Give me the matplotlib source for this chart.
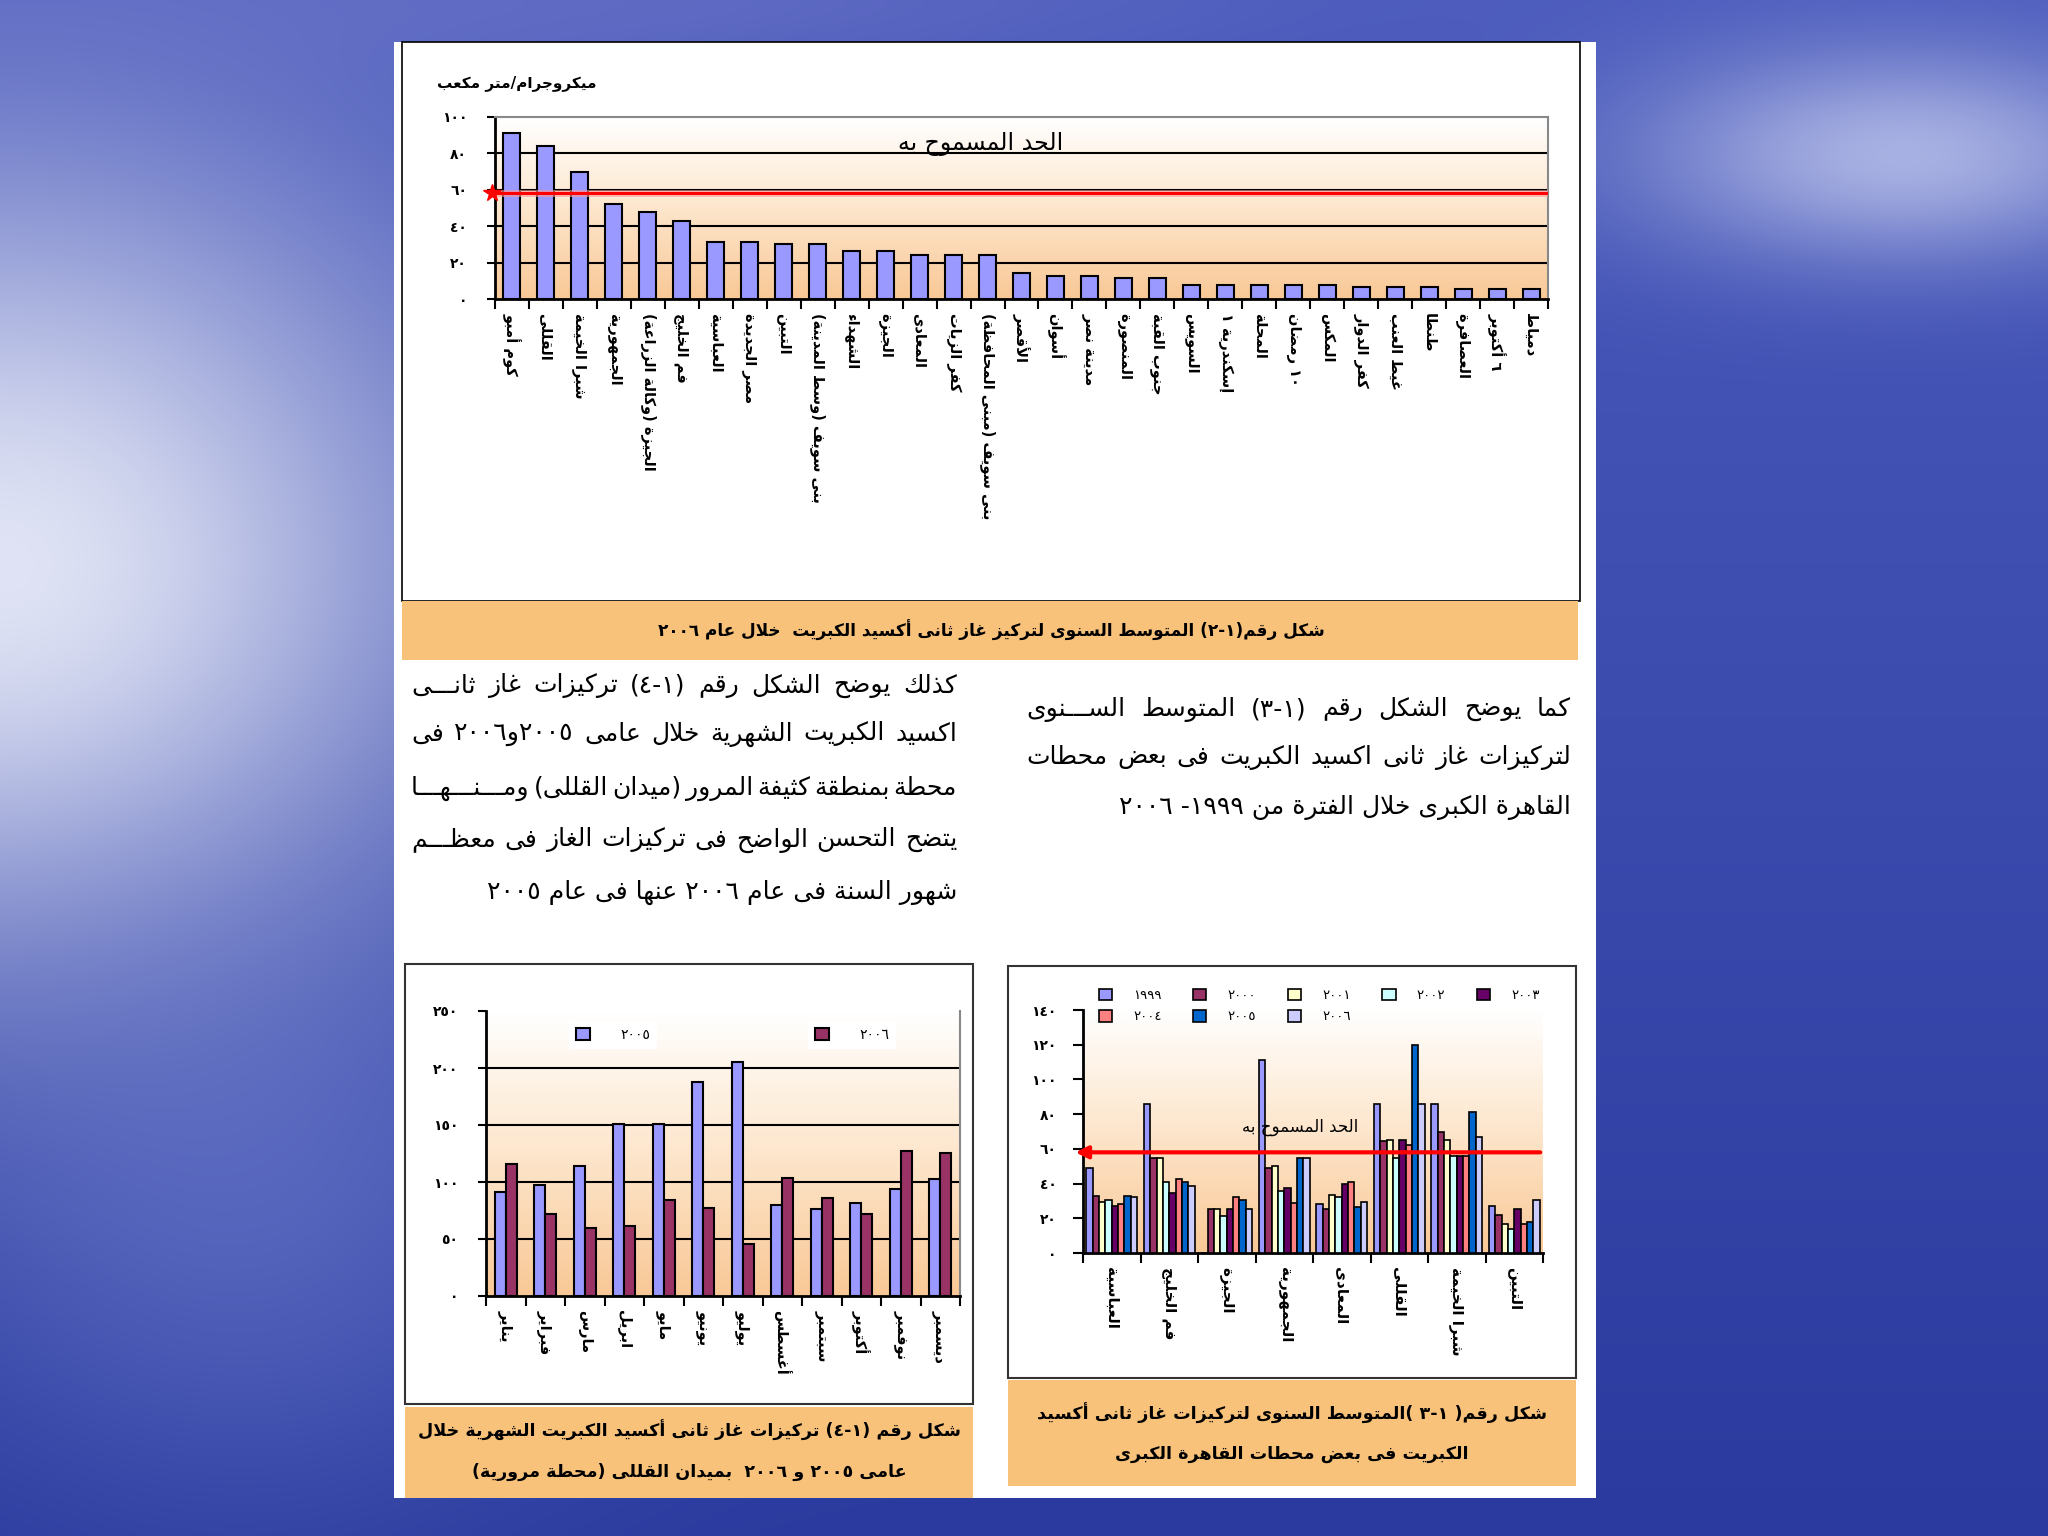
import numpy as np
import matplotlib
matplotlib.use("Agg")
import matplotlib.pyplot as plt
from matplotlib.patches import Rectangle, Patch
from matplotlib.colors import LinearSegmentedColormap

# ---------------- data ----------------
top_stations = ["كوم أمبو", "القللى", "شبرا الخيمة", "الجمهورية", "الجيزة (وكالة الزراعة)",
                "فم الخليج", "العباسية", "مصر الجديدة", "التبين", "بنى سويف (وسط المدينة)",
                "الشهداء", "الجيزة", "المعادى", "كفر الزيات", "بنى سويف (مبنى المحافظة)",
                "الأقصر", "أسوان", "مدينة نصر", "المنصورة", "جنوب القبة", "السويس",
                "إسكندرية ١", "المحلة", "١٠ رمضان", "المكس", "كفر الدوار", "غيط العنب",
                "طنطا", "العصافرة", "٦ أكتوبر", "دمياط"]
top_values = [91, 84, 70, 52, 48, 43, 31.5, 31.5, 30.3, 30.3, 26.6, 26.6, 24.2, 24.2, 24.2,
              14.1, 12.8, 12.8, 11.7, 11.7, 7.8, 7.8, 7.8, 7.8, 7.8, 6.6, 6.6, 6.6, 5.5, 5.5, 5.5]
limit = 60

months = ["يناير", "فبراير", "مارس", "ابريل", "مايو", "يونيو", "يوليو", "أغسطس",
          "سبتمبر", "أكتوبر", "نوفمبر", "ديسمبر"]
qallali_2005 = [91.5, 97.6, 113.8, 151, 151, 187.6, 205, 79.7, 75.9, 81.5, 93.5, 103]
qallali_2006 = [115.6, 72, 60, 61.8, 83.8, 77.6, 45.6, 103.5, 85.6, 72, 127, 125.6]

cairo_stations = ["العباسية", "فم الخليج", "الجيزة", "الجمهورية", "المعادى", "القللى",
                  "شبرا الخيمة", "التبين"]
years = [1999, 2000, 2001, 2002, 2003, 2004, 2005, 2006]
cairo_values = [
    [49, 86, 0, 111, 28.2, 86, 86, 26.9],
    [33, 55, 25.3, 48.8, 25.3, 64.4, 69.5, 21.9],
    [29.5, 55, 25.3, 50, 33.3, 65.3, 65.3, 16.8],
    [30.7, 41, 21.5, 35.8, 32, 54.9, 56, 13.9],
    [27, 34.7, 25.3, 37.3, 40, 65.3, 56, 25.3],
    [28, 42.5, 32, 29, 41, 62.5, 56, 16.8],
    [33, 41, 30.5, 55, 26.7, 119.6, 81, 17.7],
    [32, 38.5, 25.3, 55, 29.5, 86, 66.7, 30.5],
]
year_colors = ["#9999FF", "#993366", "#FFFFCC", "#CCFFFF", "#660066", "#FF8080", "#0066CC", "#CCCCFF"]

left_par = ["كذلك يوضح الشكل رقم (١-٤) تركيزات غاز ثانـــى",
            "اكسيد الكبريت الشهرية خلال عامى ٢٠٠٥و٢٠٠٦ فى",
            "محطة بمنطقة كثيفة المرور (ميدان القللى) ومـــنـــهـــا",
            "يتضح التحسن الواضح فى تركيزات الغاز فى معظـــم",
            "شهور السنة فى عام ٢٠٠٦ عنها فى عام ٢٠٠٥"]
right_par = ["كما يوضح الشكل رقم (١-٣) المتوسط الســـنوى",
             "لتركيزات غاز ثانى اكسيد الكبريت فى بعض محطات",
             "القاهرة الكبرى خلال الفترة من ١٩٩٩- ٢٠٠٦"]

# ---------------- arabic shaping (matplotlib draws glyphs left to right) ----------------
AR_FORMS = {'ء': (0xFE80, 1), 'آ': (0xFE81, 2), 'أ': (0xFE83, 2), 'ؤ': (0xFE85, 2),
            'إ': (0xFE87, 2), 'ئ': (0xFE89, 4), 'ا': (0xFE8D, 2), 'ب': (0xFE8F, 4),
            'ة': (0xFE93, 2), 'ت': (0xFE95, 4), 'ث': (0xFE99, 4), 'ج': (0xFE9D, 4),
            'ح': (0xFEA1, 4), 'خ': (0xFEA5, 4), 'د': (0xFEA9, 2), 'ذ': (0xFEAB, 2),
            'ر': (0xFEAD, 2), 'ز': (0xFEAF, 2), 'س': (0xFEB1, 4), 'ش': (0xFEB5, 4),
            'ص': (0xFEB9, 4), 'ض': (0xFEBD, 4), 'ط': (0xFEC1, 4), 'ظ': (0xFEC5, 4),
            'ع': (0xFEC9, 4), 'غ': (0xFECD, 4), 'ف': (0xFED1, 4), 'ق': (0xFED5, 4),
            'ك': (0xFED9, 4), 'ل': (0xFEDD, 4), 'م': (0xFEE1, 4), 'ن': (0xFEE5, 4),
            'ه': (0xFEE9, 4), 'و': (0xFEED, 2), 'ى': (0xFEEF, 2), 'ي': (0xFEF1, 4)}
LAM_ALEF = {'آ': 0xFEF5, 'أ': 0xFEF7, 'إ': 0xFEF9, 'ا': 0xFEFB}
TATWEEL = 'ـ'
DIGITS = set('٠١٢٣٤٥٦٧٨٩0123456789')
MIRROR = {'(': ')', ')': '('}


def joins_fwd(c):
    return c == TATWEEL or (c in AR_FORMS and AR_FORMS[c][1] == 4)


def joins_back(c):
    return isinstance(c, tuple) or c == TATWEEL or (c in AR_FORMS and AR_FORMS[c][1] >= 2)


def shape(text):
    toks = []
    i = 0
    while i < len(text):
        if text[i] == 'ل' and i + 1 < len(text) and text[i + 1] in LAM_ALEF:
            toks.append(('LA', text[i + 1]))
            i += 2
        else:
            toks.append(text[i])
            i += 1
    out = []
    for k, t in enumerate(toks):
        prev = toks[k - 1] if k > 0 else None
        nxt = toks[k + 1] if k + 1 < len(toks) else None
        jp = prev is not None and not isinstance(prev, tuple) and joins_fwd(prev)
        if isinstance(t, tuple):
            out.append(chr(LAM_ALEF[t[1]] + (1 if jp else 0)))
            continue
        if t not in AR_FORMS:
            out.append(t)
            continue
        base, n = AR_FORMS[t]
        if n == 1:
            out.append(chr(base))
            continue
        jn = n == 4 and nxt is not None and joins_back(nxt)
        idx = (3 if jn else 1) if jp else (2 if jn else 0)
        out.append(chr(base + idx))
    return ''.join(out)


def ar(text):
    s = shape(text)
    runs = []
    for ch in s:
        d = ch in DIGITS
        if runs and runs[-1][0] == d:
            runs[-1][1].append(ch)
        else:
            runs.append([d, [ch]])
    out = []
    for d, chars in reversed(runs):
        if d:
            out.extend(chars)
        else:
            out.extend(MIRROR.get(c, c) for c in reversed(chars))
    return ''.join(out)


def ind(n):
    return str(n).translate(str.maketrans('0123456789', '٠١٢٣٤٥٦٧٨٩'))


# ---------------- figure ----------------
W, H = 2048, 1536
plt.rcParams['font.family'] = ['DejaVu Sans']
fig = plt.figure(figsize=(W / 100, H / 100), dpi=100)
renderer = fig.canvas.get_renderer()


def box(x0, y0, x1, y1):
    return [x0 / W, 1 - y1 / H, (x1 - x0) / W, (y1 - y0) / H]


def frect(x0, y0, x1, y1, **kw):
    fig.add_artist(Rectangle((x0 / W, 1 - y1 / H), (x1 - x0) / W, (y1 - y0) / H,
                             transform=fig.transFigure, **kw))


def ftext(x, y, s, **kw):
    return fig.text(x / W, 1 - y / H, ar(s), **kw)


def justify(lines, left, right, ys, size):
    # right-to-left justified paragraph, last line only right aligned
    for i, (line, y) in enumerate(zip(lines, ys)):
        if i == len(lines) - 1:
            ftext(right, y, line, ha='right', va='center', fontsize=size)
            continue
        words = line.split()
        arts = [ftext(0, y, w, ha='right', va='center', fontsize=size) for w in words]
        widths = [a.get_window_extent(renderer).width for a in arts]
        gap = (right - left - sum(widths)) / (len(words) - 1)
        xr = right
        for a, wd in zip(arts, widths):
            a.set_position((xr / W, 1 - y / H))
            xr -= wd + gap


# background (blue sky / sea)
bg = fig.add_axes([0, 0, 1, 1], zorder=-5)
yy, xx = np.mgrid[0:1:300j, 0:1:400j]
top_c = np.array([0x4a, 0x5a, 0xbc]) / 255
bot_c = np.array([0x2a, 0x3a, 0x9e]) / 255
img = top_c * (1 - yy[..., None]) + bot_c * yy[..., None]
for cx, cy, sx, sy, col, a in [(0.0, 0.37, 0.23, 0.27, '#e8ebf8', 0.95),
                               (0.12, 0.78, 0.16, 0.2, '#7080d0', 0.5),
                               (0.93, 0.1, 0.13, 0.07, '#c8cff0', 0.75),
                               (0.3, 0.0, 0.3, 0.05, '#7078c8', 0.5)]:
    g = np.exp(-(((xx - cx) / sx) ** 2 + ((yy - cy) / sy) ** 2))[..., None] * a
    c = np.array(matplotlib.colors.to_rgb(col))
    img = img + (c - img) * g
bg.imshow(np.clip(img, 0, 1), aspect='auto', extent=(0, 1, 0, 1), interpolation='bicubic')
bg.axis('off')

# white page
frect(394, 42, 1596, 1498, facecolor='white', edgecolor='none', zorder=0.5)

peach = LinearSegmentedColormap.from_list('peach', ['#FFFFFF', '#FDE6CC', '#F9C896'])
band = '#F8C27B'


def plot_bg(ax, x0, x1, y1):
    ax.imshow(np.linspace(0, 1, 256)[:, None], cmap=peach, aspect='auto',
              extent=(x0, x1, 0, y1), origin='upper', zorder=0)
    ax.set_xlim(x0, x1)
    ax.set_ylim(0, y1)


# ---------- top chart ----------
frect(402, 42, 1580, 601, facecolor='none', edgecolor='black', lw=1.2, zorder=1)
ax1 = fig.add_axes(box(495, 117, 1548, 299), zorder=2)
x = np.arange(len(top_stations))
plot_bg(ax1, -0.5, len(top_stations) - 0.5, 100)
for v in [20, 40, 60, 80]:
    ax1.axhline(v, color='black', lw=1.5, zorder=1)
ax1.bar(x, top_values, width=0.5, color='#9999FF', edgecolor='black', lw=1.5, zorder=3)
ax1.plot([-0.5, len(top_stations) - 0.5], [limit - 1.5] * 2, color='#FF9999', lw=5, zorder=4, alpha=0.6)
ax1.plot([-0.5, len(top_stations) - 0.5], [limit - 1.5] * 2, color='red', lw=2.2, zorder=4)
ax1.plot([-0.6], [limit - 1.5], marker='*', ms=13, color='red', clip_on=False, zorder=5)
ax1.text(13.8, 85, ar("الحد المسموح به"), ha='center', va='center', fontsize=17, zorder=5)
ax1.set_yticks(range(0, 101, 20), [ind(v) for v in range(0, 101, 20)], fontsize=10, fontweight='bold')
ax1.set_xticks(x, [ar(s) for s in top_stations], rotation=270, fontsize=10.5,
               fontweight='bold', va='top', ha='center')
ax1.set_xticks(np.arange(-0.5, len(top_stations)), minor=True)
ax1.tick_params(axis='x', which='major', length=0, pad=10)
ax1.tick_params(axis='x', which='minor', length=7, width=1.5)
ax1.tick_params(axis='y', length=6, width=1.5, pad=14)
for s in ['left', 'bottom']:
    ax1.spines[s].set_linewidth(2)
for s in ['top', 'right']:
    ax1.spines[s].set_color('#888888')
    ax1.spines[s].set_linewidth(1.5)
ftext(517, 83, "ميكروجرام/متر مكعب", ha='center', va='center', fontsize=11, fontweight='bold')
frect(402, 601, 1578, 660, facecolor=band, edgecolor='none', zorder=1)
ftext(991, 630, "شكل رقم(١-٢) المتوسط السنوى لتركيز غاز ثانى أكسيد الكبريت  خلال عام ٢٠٠٦",
      ha='center', va='center', fontsize=12.2, fontweight='bold')

# ---------- paragraphs ----------
justify(left_par, 411, 957, [686, 734, 788, 840, 892], 18)
justify(right_par, 1026, 1571, [709, 757, 808], 18)

# ---------- bottom left chart ----------
frect(405, 964, 973, 1404, facecolor='none', edgecolor='#333333', lw=1.5, zorder=1)
ax2 = fig.add_axes(box(486, 1011, 960, 1296), zorder=2)
xm = np.arange(len(months))
plot_bg(ax2, -0.5, len(months) - 0.5, 250)
for v in [50, 100, 150, 200]:
    ax2.axhline(v, color='black', lw=1.5, zorder=1)
ax2.bar(xm - 0.14, qallali_2005, width=0.28, color='#9999FF', edgecolor='black', lw=1.5, zorder=3)
ax2.bar(xm + 0.14, qallali_2006, width=0.28, color='#993366', edgecolor='black', lw=1.5, zorder=3)
ax2.set_yticks(range(0, 251, 50), [ind(v) for v in range(0, 251, 50)], fontsize=10, fontweight='bold')
ax2.set_xticks(xm, [ar(s) for s in months], rotation=270, fontsize=10.5, fontweight='bold',
               va='top', ha='center')
ax2.set_xticks(np.arange(-0.5, len(months)), minor=True)
ax2.tick_params(axis='x', which='major', length=0, pad=10)
ax2.tick_params(axis='x', which='minor', length=7, width=1.5)
ax2.tick_params(axis='y', length=6, width=1.5, pad=14)
ax2.spines['top'].set_visible(False)
ax2.spines['right'].set_color('#888888')
ax2.spines['right'].set_linewidth(1.5)
for s in ['left', 'bottom']:
    ax2.spines[s].set_linewidth(2)
for lx, yr, col in [(0.16, 2005, '#9999FF'), (0.665, 2006, '#993366')]:
    lg = ax2.legend(handles=[Patch(facecolor=col, edgecolor='black', lw=1.5)], labels=[ind(yr)],
                    loc='upper left', bbox_to_anchor=(lx, 0.99), frameon=True, fancybox=False,
                    edgecolor='none', facecolor='white', framealpha=1, fontsize=10,
                    handlelength=1.0, handleheight=1.0, handletextpad=2.2, borderpad=0.5)
    ax2.add_artist(lg)
frect(405, 1407, 973, 1498, facecolor=band, edgecolor='none', zorder=1)
ftext(689, 1430, "شكل رقم (١-٤) تركيزات غاز ثانى أكسيد الكبريت الشهرية خلال",
      ha='center', va='center', fontsize=12.6, fontweight='bold')
ftext(689, 1472, "عامى ٢٠٠٥ و ٢٠٠٦  بميدان القللى (محطة مرورية)",
      ha='center', va='center', fontsize=12.6, fontweight='bold')

# ---------- bottom right chart ----------
frect(1008, 966, 1576, 1378, facecolor='none', edgecolor='#333333', lw=1.5, zorder=1)
ax3 = fig.add_axes(box(1083, 1010, 1543, 1253), zorder=2)
xc = np.arange(len(cairo_stations))
plot_bg(ax3, -0.5, len(cairo_stations) - 0.5, 140)
bw = 0.11
handles = []
for i, (yr, vals) in enumerate(zip(years, cairo_values)):
    ax3.bar(xc + (i - 3.5) * bw, vals, width=bw, color=year_colors[i], edgecolor='black', lw=1.2, zorder=3)
    handles.append(Patch(facecolor=year_colors[i], edgecolor='black', lw=1.2))
ax3.annotate('', xy=(-0.68, limit - 2), xytext=(len(cairo_stations) - 0.5, limit - 2),
             arrowprops=dict(arrowstyle='-|>', color='red', lw=3, mutation_scale=18),
             annotation_clip=False, zorder=5)
ax3.text(3.27, 72.5, ar("الحد المسموح به"), ha='center', va='center', fontsize=12, zorder=5)
ax3.set_yticks(range(0, 141, 20), [ind(v) for v in range(0, 141, 20)], fontsize=10, fontweight='bold')
ax3.set_xticks(xc, [ar(s) for s in cairo_stations], rotation=270, fontsize=11, fontweight='bold',
               va='top', ha='center')
ax3.set_xticks(np.arange(-0.5, len(cairo_stations)), minor=True)
ax3.tick_params(axis='x', which='major', length=0, pad=10)
ax3.tick_params(axis='x', which='minor', length=7, width=1.5)
ax3.tick_params(axis='y', length=7, width=1.5, pad=12)
ax3.spines['top'].set_visible(False)
ax3.spines['right'].set_visible(False)
for s in ['left', 'bottom']:
    ax3.spines[s].set_linewidth(2)
order = [0, 5, 1, 6, 2, 7, 3, 4]
ax3.legend([handles[k] for k in order], [ind(years[k]) for k in order], ncol=5,
           loc='upper left', bbox_to_anchor=(0.02, 1.115), frameon=False, fontsize=9.5,
           handlelength=1.0, handleheight=1.0, handletextpad=1.6, columnspacing=2.4,
           labelspacing=0.6, borderpad=0)
frect(1008, 1380, 1576, 1486, facecolor=band, edgecolor='none', zorder=1)
ftext(1292, 1413, "شكل رقم( ١-٣ )المتوسط السنوى لتركيزات غاز ثانى أكسيد",
      ha='center', va='center', fontsize=12.6, fontweight='bold')
ftext(1292, 1454, "الكبريت فى بعض محطات القاهرة الكبرى",
      ha='center', va='center', fontsize=12.6, fontweight='bold')

fig.savefig("out.png", dpi=100)
